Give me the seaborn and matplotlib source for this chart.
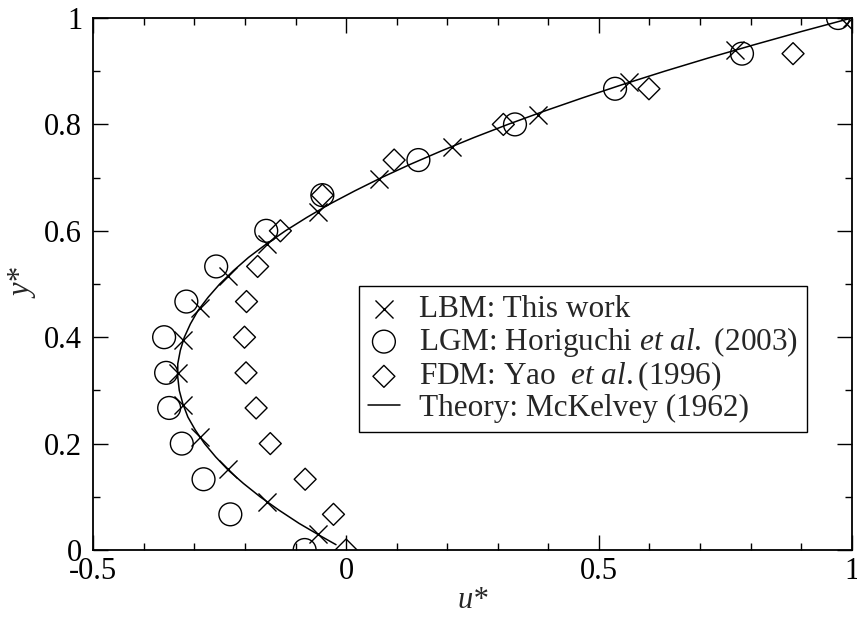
import matplotlib
matplotlib.use("Agg")
import matplotlib.pyplot as plt
from matplotlib.ticker import MultipleLocator, FuncFormatter
import seaborn as sns
import pandas as pd

# LBM: This work
lbm_u = [-0.055, -0.157, -0.234, -0.289, -0.322, -0.333, -0.322, -0.289, -0.233,
         -0.157, -0.055, 0.066, 0.209, 0.379, 0.560, 0.769, 1.0]
lbm_y = [0.030, 0.091, 0.152, 0.212, 0.273, 0.333, 0.394, 0.455, 0.515,
         0.576, 0.636, 0.697, 0.758, 0.818, 0.879, 0.939, 1.0]

# LGM: Horiguchi et al. (2003)
lgm_u = [-0.082, -0.229, -0.282, -0.325, -0.350, -0.356, -0.360, -0.316,
         -0.257, -0.158, -0.047, 0.143, 0.334, 0.532, 0.783, 0.973]
lgm_y = [0.0, 0.067, 0.133, 0.2, 0.267, 0.333, 0.4, 0.467,
         0.533, 0.6, 0.667, 0.733, 0.8, 0.867, 0.933, 1.0]

# FDM: Yao et al. (1996)
fdm_u = [0.0, -0.025, -0.081, -0.150, -0.178, -0.198, -0.201, -0.197,
         -0.175, -0.130, -0.047, 0.095, 0.311, 0.599, 0.884, 1.0]
fdm_y = lgm_y

# Theory: McKelvey (1962)
th_y = [0.01, 0.025, 0.05, 0.075, 0.1, 0.125, 0.15, 0.175, 0.2, 0.225, 0.25,
        0.275, 0.3, 0.325, 0.35, 0.375, 0.4, 0.425, 0.45, 0.475, 0.5, 0.525,
        0.55, 0.575, 0.6, 0.625, 0.65, 0.675, 0.7, 0.725, 0.75, 0.775, 0.8,
        0.825, 0.85, 0.875, 0.9, 0.925, 0.95, 0.975, 1.0]
th_u = [-0.020, -0.048, -0.093, -0.133, -0.170, -0.203, -0.233, -0.258, -0.280,
        -0.298, -0.313, -0.323, -0.330, -0.333, -0.333, -0.328, -0.320, -0.308,
        -0.293, -0.273, -0.250, -0.223, -0.193, -0.158, -0.120, -0.078, -0.033,
        0.017, 0.070, 0.127, 0.188, 0.252, 0.320, 0.392, 0.468, 0.547, 0.630,
        0.717, 0.808, 0.902, 1.0]

sns.set_style("ticks")
plt.rcParams["font.family"] = ["Liberation Serif", "DejaVu Serif"]
plt.rcParams["mathtext.fontset"] = "custom"
plt.rcParams["mathtext.rm"] = "Liberation Serif"
plt.rcParams["mathtext.it"] = "Liberation Serif:italic"
plt.rcParams["axes.unicode_minus"] = False

fig = plt.figure(figsize=(8.57, 6.17), dpi=100)
ax = fig.add_axes([0.1089, 0.1086, 0.8849, 0.8622])

sns.scatterplot(x=lbm_u, y=lbm_y, marker="x", s=169, color="black",
                linewidth=1.0, label="LBM: This work", ax=ax)
sns.scatterplot(x=lgm_u, y=lgm_y, marker="o", s=270, facecolor="none",
                edgecolor="black", linewidth=1.0,
                label=r"LGM: Horiguchi $\mathit{et\ al.}$ (2003)", ax=ax)
sns.scatterplot(x=fdm_u, y=fdm_y, marker="D", s=125, facecolor="none",
                edgecolor="black", linewidth=1.0,
                label=r"FDM: Yao  $\mathit{et\ al.}$(1996)", ax=ax)
theory = pd.DataFrame({"u": th_u, "y": th_y})
sns.lineplot(data=theory, x="u", y="y", sort=False, estimator=None,
             color="black", linewidth=1.1, label="Theory: McKelvey (1962)", ax=ax)

ax.set_xlim(-0.5, 1.0)
ax.set_ylim(0, 1.0)
ax.xaxis.set_major_locator(MultipleLocator(0.5))
ax.xaxis.set_minor_locator(MultipleLocator(0.1))
ax.yaxis.set_major_locator(MultipleLocator(0.2))
ax.yaxis.set_minor_locator(MultipleLocator(0.1))
fmt = FuncFormatter(lambda v, p: f"{v:g}")
ax.xaxis.set_major_formatter(fmt)
ax.yaxis.set_major_formatter(fmt)
ax.tick_params(which="both", direction="in", top=True, right=True,
               labelsize=22, color="black", labelcolor="black")
ax.tick_params(which="major", length=10.8, width=1.0)
ax.tick_params(which="minor", length=5.0, width=1.0)
ax.tick_params(axis="y", pad=8)
ax.tick_params(axis="x", pad=5)
for sp in ax.spines.values():
    sp.set_color("black")
    sp.set_linewidth(1.3)

ax.set_xlabel("u*", fontsize=22, fontstyle="italic", labelpad=0)
ax.set_ylabel("y*", fontsize=22, fontstyle="italic", labelpad=4)

leg = ax.legend(loc="upper left", bbox_to_anchor=(0.350, 0.496),
                borderaxespad=0, fontsize=22.5, frameon=True, fancybox=False,
                edgecolor="black", framealpha=1, handlelength=1.05,
                handletextpad=0.6, labelspacing=0.03, borderpad=0.28)
leg.get_frame().set_linewidth(1.0)

fig.savefig("out.png", dpi=100)
